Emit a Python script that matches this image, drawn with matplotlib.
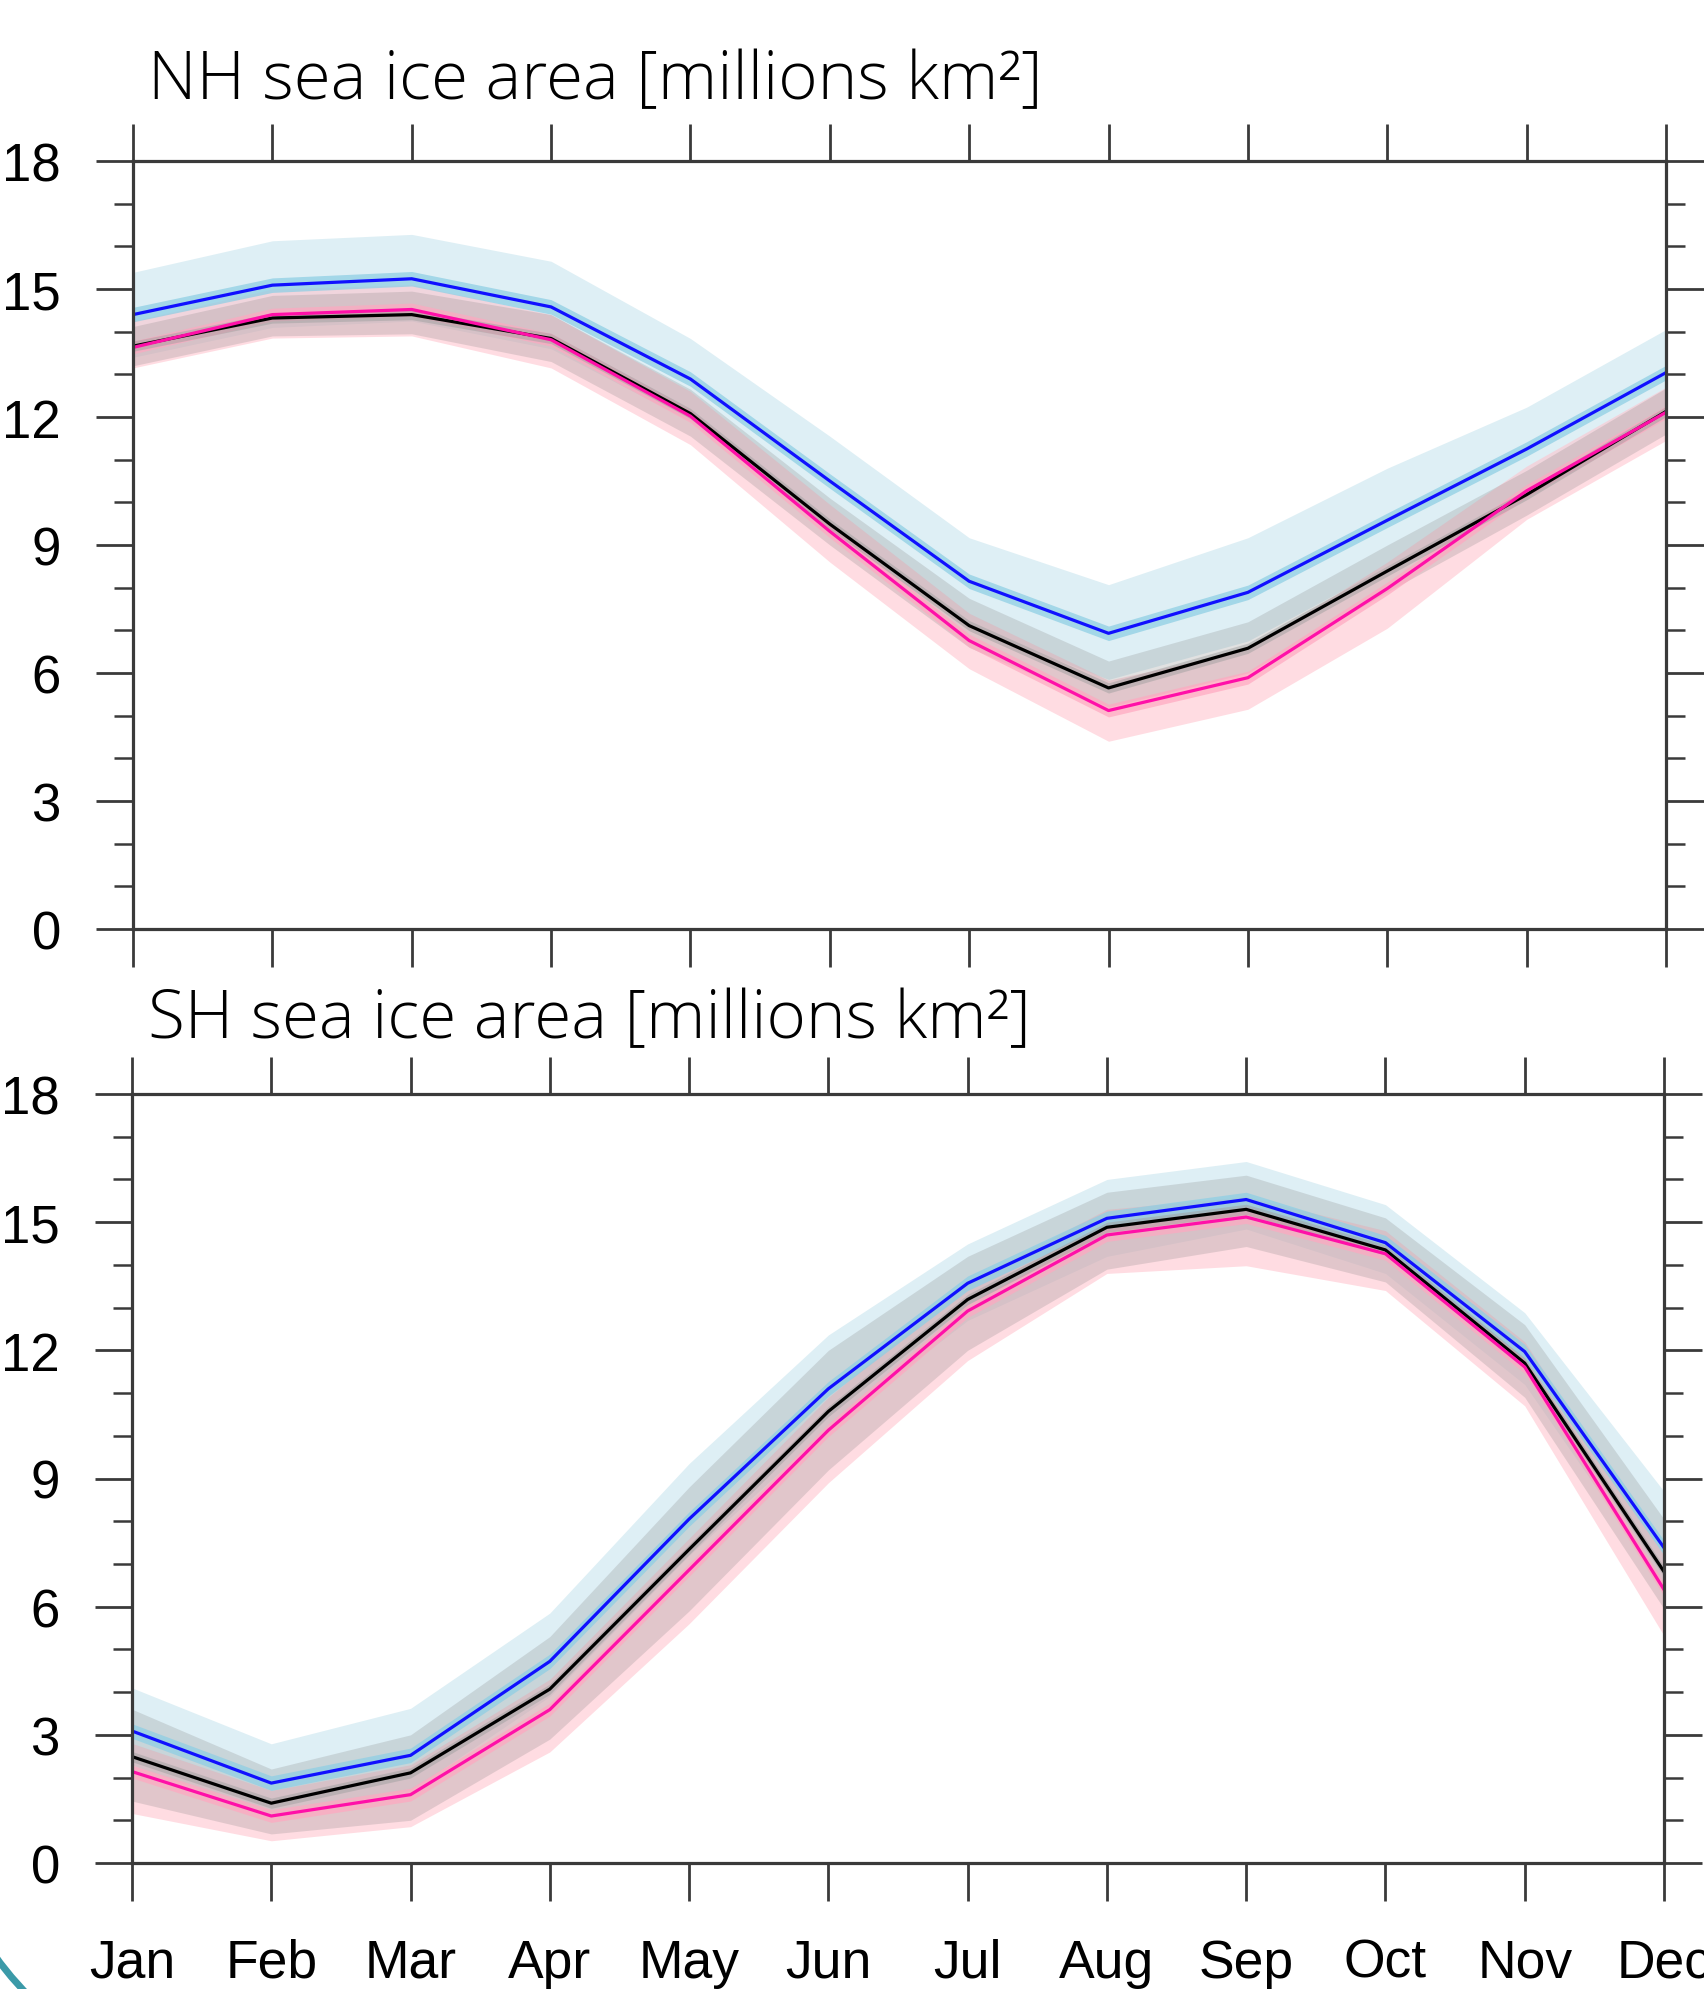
import matplotlib
matplotlib.use("Agg")
import matplotlib.pyplot as plt
from matplotlib.patches import Arc
from matplotlib.ticker import MultipleLocator

months = ["Jan", "Feb", "Mar", "Apr", "May", "Jun", "Jul", "Aug", "Sep", "Oct", "Nov", "Dec"]
yticks = [0, 3, 6, 9, 12, 15, 18]

# ---- Northern Hemisphere ----
nh_blue = [14.40, 15.09, 15.24, 14.58, 12.89, 10.50, 8.15, 6.93, 7.89, 9.58, 11.25, 13.04]
nh_blue_hi = [15.39, 16.13, 16.28, 15.65, 13.84, 11.55, 9.17, 8.07, 9.17, 10.80, 12.23, 14.05]
nh_blue_lo = [13.40, 14.10, 14.25, 13.60, 11.90, 9.50, 7.10, 5.85, 6.75, 8.50, 10.20, 12.00]
nh_black = [13.66, 14.32, 14.40, 13.84, 12.08, 9.49, 7.11, 5.65, 6.58, 8.39, 10.18, 12.13]
nh_gray_hi = [14.12, 14.85, 14.95, 14.40, 12.65, 10.10, 7.75, 6.28, 7.20, 9.00, 10.75, 12.68]
nh_gray_lo = [13.20, 13.90, 13.95, 13.30, 11.55, 9.00, 6.60, 5.20, 6.00, 7.90, 9.70, 11.60]
nh_mag = [13.63, 14.40, 14.52, 13.81, 12.02, 9.32, 6.76, 5.12, 5.89, 7.98, 10.27, 12.11]
nh_pink_hi = [14.25, 15.00, 15.10, 14.40, 12.60, 9.95, 7.40, 5.83, 6.55, 8.60, 10.85, 12.70]
nh_pink_lo = [13.15, 13.85, 13.90, 13.15, 11.35, 8.60, 6.10, 4.40, 5.15, 7.05, 9.60, 11.45]

# ---- Southern Hemisphere ----
sh_blue = [3.09, 1.87, 2.52, 4.72, 8.05, 11.10, 13.57, 15.09, 15.53, 14.52, 11.97, 7.38]
sh_blue_hi = [4.10, 2.79, 3.62, 5.85, 9.35, 12.36, 14.49, 16.00, 16.42, 15.41, 12.88, 8.70]
sh_blue_lo = [2.30, 1.10, 1.70, 3.90, 7.20, 10.20, 12.70, 14.20, 14.84, 13.80, 11.20, 6.50]
sh_black = [2.49, 1.40, 2.11, 4.07, 7.34, 10.57, 13.19, 14.88, 15.30, 14.35, 11.70, 6.82]
sh_gray_hi = [3.60, 2.20, 3.00, 5.30, 8.80, 12.00, 14.20, 15.70, 16.10, 15.10, 12.60, 8.05]
sh_gray_lo = [1.45, 0.68, 1.00, 2.90, 5.90, 9.20, 12.00, 13.90, 14.43, 13.60, 10.90, 5.95]
sh_mag = [2.14, 1.10, 1.60, 3.59, 6.86, 10.13, 12.92, 14.70, 15.12, 14.26, 11.61, 6.40]
sh_pink_hi = [2.80, 1.70, 2.30, 4.30, 7.60, 10.90, 13.60, 15.30, 15.60, 14.80, 12.20, 7.20]
sh_pink_lo = [1.16, 0.52, 0.85, 2.60, 5.60, 8.90, 11.76, 13.80, 13.98, 13.40, 10.70, 5.32]

titles = ["NH sea ice area [millions km\u00b2]", "SH sea ice area [millions km\u00b2]"]

W, H = 1704, 1990
fig = plt.figure(figsize=(W / 100, H / 100), dpi=100)

axcol = "#3a3a3a"
x = list(range(len(months)))

def draw(ax, blue, bhi, blo, black, ghi, glo, mag, phi, plo, show_labels):
    ax.fill_between(x, blo, bhi, color="#add8e6", alpha=0.40, lw=0, zorder=1)
    ax.fill_between(x, plo, phi, color="#ffc0cb", alpha=0.55, lw=0, zorder=2)
    ax.fill_between(x, glo, ghi, color="#808080", alpha=0.23, lw=0, zorder=3)
    ax.fill_between(x, [v - 0.17 for v in blue], [v + 0.17 for v in blue],
                    color="#8fcfe4", alpha=0.75, lw=0, zorder=4)
    ax.fill_between(x, [v - 0.15 for v in mag], [v + 0.15 for v in mag],
                    color="#ffa8c0", alpha=0.7, lw=0, zorder=4)
    ax.fill_between(x, [v - 0.12 for v in black], [v + 0.12 for v in black],
                    color="#a0a0a0", alpha=0.5, lw=0, zorder=4)
    ax.plot(x, black, color="black", lw=2.3, zorder=6)
    ax.plot(x, mag, color="#ff10a8", lw=2.3, zorder=7)
    ax.plot(x, blue, color="#1010ff", lw=2.3, zorder=8)

    ax.set_xlim(0, 11)
    ax.set_ylim(0, 18)
    ax.set_xticks(x)
    ax.set_yticks(yticks)
    ax.yaxis.set_minor_locator(MultipleLocator(1))
    for s in ax.spines.values():
        s.set_linewidth(2.3)
        s.set_color(axcol)
        s.set_zorder(10)
    ax.tick_params(axis="both", which="major", direction="out", length=27, width=2.0,
                   color=axcol, top=True, right=True, bottom=True, left=True)
    ax.tick_params(axis="y", which="minor", direction="out", length=13.5, width=1.8,
                   color=axcol, left=True, right=True)
    ax.tick_params(axis="y", which="major", labelsize=38, pad=25, labelright=False)
    ax.tick_params(axis="x", which="major", labelsize=38.5, pad=27, labeltop=False,
                   labelbottom=show_labels)
    ax.set_xticklabels(months)
    for lab in ax.get_xticklabels() + ax.get_yticklabels():
        lab.set_fontfamily(["Liberation Sans", "DejaVu Sans"])

ax1 = fig.add_axes([133 / W, 1 - 930 / H, (1666 - 133) / W, (930 - 162) / H])
draw(ax1, nh_blue, nh_blue_hi, nh_blue_lo, nh_black, nh_gray_hi, nh_gray_lo,
     nh_mag, nh_pink_hi, nh_pink_lo, False)
ax2 = fig.add_axes([132 / W, 1 - 1864 / H, (1664 - 132) / W, (1864 - 1095) / H])
draw(ax2, sh_blue, sh_blue_hi, sh_blue_lo, sh_black, sh_gray_hi, sh_gray_lo,
     sh_mag, sh_pink_hi, sh_pink_lo, True)

tfam = ["Open Sans", "Roboto", "DejaVu Sans"]
fig.text(148 / W, 1 - 99 / H, titles[0], fontsize=48.5, fontfamily=tfam,
         fontweight="light", va="baseline", ha="left")
fig.text(148 / W, 1 - 1038 / H, titles[1], fontsize=48.5, fontfamily=tfam,
         fontweight="light", va="baseline", ha="left")

# decorative teal arc in the lower-left corner
arc = Arc((2.60, 2.23), 6.52, 6.52, theta1=200, theta2=250, color="#3b9aa8", lw=5,
          transform=fig.dpi_scale_trans)
fig.patches.append(arc)

fig.savefig("out.png", dpi=100)
